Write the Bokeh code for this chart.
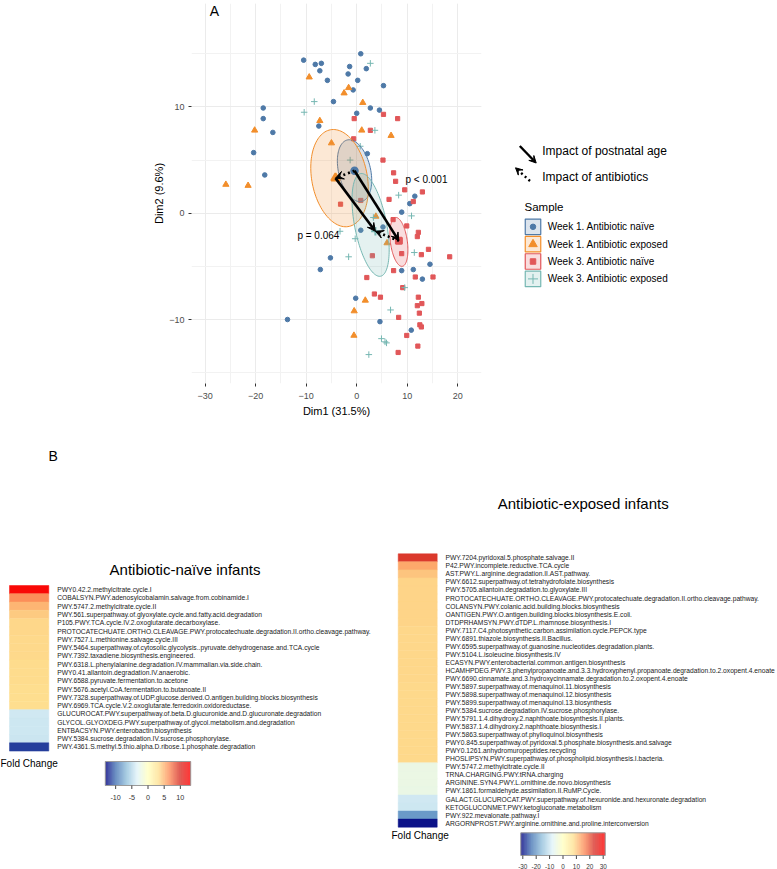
import numpy as np
from bokeh.plotting import figure
from bokeh.models import Range1d, Arrow, VeeHead, SingleIntervalTicker, ColumnDataSource, Label
from bokeh.layouts import column, row
from bokeh.transform import linear_cmap
from bokeh.core.properties import value
from bokeh.embed import file_html
from bokeh.resources import INLINE

FONT = "Liberation Sans"

# ---------------- Panel A data (PCA scores) ----------------
groups = ["Week 1. Antibiotic naïve", "Week 1. Antibiotic exposed",
          "Week 3. Antibiotic naïve", "Week 3. Antibiotic exposed"]
group_colors = ["#4E79A7", "#F28E2B", "#E15759", "#76B7B2"]
group_markers = ["circle", "triangle", "square", "cross"]

w1_naive_x = [-10.5, -8.2, -7.0, -7.3, -5.8, 0.8, -1.4, -1.7, 1.9, 0.2, -0.7, 5.3, -4.6, 2.7, 4.5, 0.0,
              -18.5, -18.5, -16.6, -7.5, -20.4, -18.2, 2.1, 11.5, 10.5, 8.9, 0.8, 5.2, -5.2, -7.2, -0.2,
              8.9, 11.2, 13.0, 14.5, -13.7, 4.6, 10.8]
w1_naive_y = [14.4, 14.0, 14.1, 13.4, 12.5, 15.0, 13.8, 13.1, 13.6, 12.5, 11.6, 12.0, 10.5, 9.9, 9.7, 9.4,
              9.9, 8.9, 7.6, 8.2, 5.7, 3.6, 5.6, 1.6, 0.9, 0.1, -1.6, -1.3, -4.2, -5.3, -8.0,
              -5.4, -5.3, -6.2, -4.8, -10.0, -10.2, -11.0]

w1_exp_x = [-9.4, -1.6, -2.5, 1.2, -20.2, -7.3, 1.0, 6.8, -5.0, -25.9, -21.5, 3.8, 6.0, 1.7, -0.5, -0.55]
w1_exp_y = [12.8, 11.8, 11.3, 10.4, 7.8, 8.7, 7.8, 7.3, 6.6, 2.7, 2.6, -0.3, -2.8, -8.2, -9.2, -11.5]

w3_naive_x = [-0.5, 5.3, 8.1, 2.7, -0.6, 5.2, 7.3, 7.7, 9.5, 13.0, 11.2, 6.4, -3.2, 0.8, 7.2,
              9.9, 12.2, 12.0, 8.9, 12.8, 14.2, 18.4, 3.1, 7.3, 11.6, 15.1, 2.0, 9.1, 3.5, 4.7,
              12.2, 12.9, 12.0, 12.4, 8.3, 12.5, 12.8, 9.9, 12.1, 8.2]
w3_naive_y = [8.9, 9.3, 8.9, 7.8, 7.0, 5.0, 3.8, 3.0, 2.2, 2.0, 1.1, 1.3, 0.85, 1.2, -0.6,
              -1.2, -1.8, -2.2, -3.8, -3.9, -3.4, -4.1, -4.0, -5.4, -6.0, -6.0, -6.05, -7.0, -7.6, -7.9,
              -7.9, -8.5, -8.7, -9.4, -9.8, -10.5, -10.7, -11.5, -12.5, -13.1]

w3_exp_x = [2.7, -8.4, -10.4, 3.6, 0.7, -1.3, 8.3, 10.85, -3.3, -0.3, 3.3, -1.6, 11.4, 9.5, 6.7, 4.9, 5.6, 5.9, 2.4]
w3_exp_y = [14.1, 10.5, 9.5, 7.8, 6.3, 5.0, 1.7, -0.25, -1.7, -2.4, -0.4, -4.1, -3.7, -7.0, -9.1, -11.8, -12.1, -12.2, -13.3]

group_x = [w1_naive_x, w1_exp_x, w3_naive_x, w3_exp_x]
group_y = [w1_naive_y, w1_exp_y, w3_naive_y, w3_exp_y]

# group centroids
mean_x = [-0.43, -4.2, 8.35, 3.7]
mean_y = [4.0, 3.3, -2.6, -1.7]

# confidence ellipses: centre, semi-axis vectors (data units)
ell_cx = [-0.43, -3.4, 8.35, 2.75]
ell_cy = [4.0, 3.3, -2.7, -1.1]
ell_ax = [-1.44, -1.8, 0.66, 1.98]
ell_ay = [2.89, 4.55, -2.3, -4.83]
ell_bx = [3.08, 5.4, 1.66, 3.1]
ell_by = [0.35, 0.48, 0.1, 0.29]

pval_text = ["p < 0.001", "p = 0.064"]
pval_x = [9.66, -11.74]
pval_y = [3.17, -2.05]

# ---------------- Panel B data (fold changes) ----------------
naive_pathways = [
    "PWY0.42.2.methylcitrate.cycle.I",
    "COBALSYN.PWY.adenosylcobalamin.salvage.from.cobinamide.I",
    "PWY.5747.2.methylcitrate.cycle.II",
    "PWY.561.superpathway.of.glyoxylate.cycle.and.fatty.acid.degradation",
    "P105.PWY.TCA.cycle.IV.2.oxoglutarate.decarboxylase.",
    "PROTOCATECHUATE.ORTHO.CLEAVAGE.PWY.protocatechuate.degradation.II.ortho.cleavage.pathway.",
    "PWY.7527.L.methionine.salvage.cycle.III",
    "PWY.5464.superpathway.of.cytosolic.glycolysis..pyruvate.dehydrogenase.and.TCA.cycle",
    "PWY.7392.taxadiene.biosynthesis.engineered.",
    "PWY.6318.L.phenylalanine.degradation.IV.mammalian.via.side.chain.",
    "PWY0.41.allantoin.degradation.IV.anaerobic.",
    "PWY.6588.pyruvate.fermentation.to.acetone",
    "PWY.5676.acetyl.CoA.fermentation.to.butanoate.II",
    "PWY.7328.superpathway.of.UDP.glucose.derived.O.antigen.building.blocks.biosynthesis",
    "PWY.6969.TCA.cycle.V.2.oxoglutarate.ferredoxin.oxidoreductase.",
    "GLUCUROCAT.PWY.superpathway.of.beta.D.glucuronide.and.D.glucuronate.degradation",
    "GLYCOL.GLYOXDEG.PWY.superpathway.of.glycol.metabolism.and.degradation",
    "ENTBACSYN.PWY.enterobactin.biosynthesis",
    "PWY.5384.sucrose.degradation.IV.sucrose.phosphorylase.",
    "PWY.4361.S.methyl.5.thio.alpha.D.ribose.1.phosphate.degradation",
]
naive_fc = [12.6, 6.6, 5.0, 4.2, 3.7, 3.65, 3.6, 3.6, 3.55, 3.5, 3.5, 3.45, 3.4, 3.4, 3.35,
            -4.0, -4.1, -4.1, -4.2, -11.4]

exposed_pathways = [
    "PWY.7204.pyridoxal.5.phosphate.salvage.II",
    "P42.PWY.incomplete.reductive.TCA.cycle",
    "AST.PWY.L.arginine.degradation.II.AST.pathway.",
    "PWY.6612.superpathway.of.tetrahydrofolate.biosynthesis",
    "PWY.5705.allantoin.degradation.to.glyoxylate.III",
    "PROTOCATECHUATE.ORTHO.CLEAVAGE.PWY.protocatechuate.degradation.II.ortho.cleavage.pathway.",
    "COLANSYN.PWY.colanic.acid.building.blocks.biosynthesis",
    "OANTIGEN.PWY.O.antigen.building.blocks.biosynthesis.E.coli.",
    "DTDPRHAMSYN.PWY.dTDP.L.rhamnose.biosynthesis.I",
    "PWY.7117.C4.photosynthetic.carbon.assimilation.cycle.PEPCK.type",
    "PWY.6891.thiazole.biosynthesis.II.Bacillus.",
    "PWY.6595.superpathway.of.guanosine.nucleotides.degradation.plants.",
    "PWY.5104.L.isoleucine.biosynthesis.IV",
    "ECASYN.PWY.enterobacterial.common.antigen.biosynthesis",
    "HCAMHPDEG.PWY.3.phenylpropanoate.and.3.3.hydroxyphenyl.propanoate.degradation.to.2.oxopent.4.enoate",
    "PWY.6690.cinnamate.and.3.hydroxycinnamate.degradation.to.2.oxopent.4.enoate",
    "PWY.5897.superpathway.of.menaquinol.11.biosynthesis",
    "PWY.5898.superpathway.of.menaquinol.12.biosynthesis",
    "PWY.5899.superpathway.of.menaquinol.13.biosynthesis",
    "PWY.5384.sucrose.degradation.IV.sucrose.phosphorylase.",
    "PWY.5791.1.4.dihydroxy.2.naphthoate.biosynthesis.II.plants.",
    "PWY.5837.1.4.dihydroxy.2.naphthoate.biosynthesis.I",
    "PWY.5863.superpathway.of.phylloquinol.biosynthesis",
    "PWY0.845.superpathway.of.pyridoxal.5.phosphate.biosynthesis.and.salvage",
    "PWY0.1261.anhydromuropeptides.recycling",
    "PHOSLIPSYN.PWY.superpathway.of.phospholipid.biosynthesis.I.bacteria.",
    "PWY.5747.2.methylcitrate.cycle.II",
    "TRNA.CHARGING.PWY.tRNA.charging",
    "ARGININE.SYN4.PWY.L.ornithine.de.novo.biosynthesis",
    "PWY.1861.formaldehyde.assimilation.II.RuMP.Cycle.",
    "GALACT.GLUCUROCAT.PWY.superpathway.of.hexuronide.and.hexuronate.degradation",
    "KETOGLUCONMET.PWY.ketogluconate.metabolism",
    "PWY.922.mevalonate.pathway.I",
    "ARGORNPROST.PWY.arginine.ornithine.and.proline.interconversion",
]
exposed_fc = [22.7, 13.2, 10.4, 9.1, 9.0, 9.0, 8.95, 8.9, 8.9, 8.85, 8.8, 8.8, 8.75, 8.7, 8.7,
              8.65, 8.6, 8.6, 8.6, 8.55, 8.55, 8.5, 8.5, 8.5, 8.45, 8.4,
              -5.0, -5.0, -5.1, -5.2, -9.4, -9.6, -19.5, -30.2]

naive_scale = [-13.2, 13.2]
naive_ticks = [-10, -5, 0, 5, 10]
exposed_scale = [-31.5, 31.5]
exposed_ticks = [-30, -20, -10, 0, 10, 20, 30]

# ---------------- colour palette ----------------
stops = ["#000080", "#4575B4", "#91BFDB", "#E0F3F8", "#FFFFBF", "#FEE090", "#FC8D59", "#D73027", "#FF0000"]


def ramp(cols, n=256):
    rgb = np.array([[int(c[i:i + 2], 16) for i in (1, 3, 5)] for c in cols], float)
    pos = np.linspace(0, 1, len(cols))
    t = np.linspace(0, 1, n)
    out = np.stack([np.interp(t, pos, rgb[:, k]) for k in range(3)], 1)
    return ["#%02x%02x%02x" % tuple(int(round(v)) for v in c) for c in out]


palette = ramp(stops)

# ================= Panel A: PCA scatter =================
pA = figure(width=498, height=430, x_range=Range1d(-32.7, 24.7), y_range=Range1d(-16.02, 19.73),
            output_backend="svg", toolbar_location=None, title=None, frame_align=False,
            min_border_left=191, min_border_right=17, min_border_top=3, min_border_bottom=47)
pA.outline_line_color = None
pA.background_fill_color = "white"
pA.border_fill_color = "white"
for ax in (pA.xaxis[0], pA.yaxis[0]):
    ax.ticker = SingleIntervalTicker(interval=10, num_minor_ticks=2)
    ax.axis_line_color = None
    ax.major_tick_line_color = "#333333"
    ax.major_tick_out = 3
    ax.major_tick_in = 0
    ax.minor_tick_line_color = None
    ax.major_label_text_font = FONT
    ax.major_label_text_font_size = "9px"
    ax.major_label_text_color = "#4D4D4D"
    ax.axis_label_text_font = FONT
    ax.axis_label_text_font_size = "11px"
    ax.axis_label_text_font_style = "normal"
    ax.axis_label_text_color = "black"
pA.xaxis.major_label_standoff = 5
pA.yaxis.major_label_standoff = 3
pA.xaxis.axis_label_standoff = 3
pA.yaxis.axis_label_standoff = 1
pA.xaxis.axis_label = "Dim1 (31.5%)"
pA.yaxis.axis_label = "Dim2 (9.6%)"
pA.grid.grid_line_color = "#EBEBEB"
pA.grid.grid_line_width = 1
pA.grid.minor_grid_line_color = "#F2F2F2"
pA.grid.minor_grid_line_width = 1

pt_sizes = [4.6, 6.2, 4.2, 6.5]
for gx, gy, col, mk, sz in zip(group_x, group_y, group_colors, group_markers, pt_sizes):
    pA.scatter(gx, gy, marker=mk, size=sz, fill_color=col, line_color=col, line_width=1)

# ellipses
tt = np.linspace(0, 2 * np.pi, 120)
exs, eys = [], []
for cx, cy, ax_, ay_, bx_, by_ in zip(ell_cx, ell_cy, ell_ax, ell_ay, ell_bx, ell_by):
    exs.append(list(cx + np.cos(tt) * ax_ + np.sin(tt) * bx_))
    eys.append(list(cy + np.cos(tt) * ay_ + np.sin(tt) * by_))
pA.patches(exs, eys, fill_color=group_colors, fill_alpha=0.2, line_color=group_colors, line_width=1.0)

mean_sizes = [6.5, 8.5, 6.0, 8.5]
for mx, my, col, mk, sz in zip(mean_x, mean_y, group_colors, group_markers, mean_sizes):
    pA.scatter([mx], [my], marker=mk, size=sz, fill_color=col, line_color=col, line_width=2)

# arrows: postnatal age (solid), antibiotics (dotted)
solid_pairs = [(0, 2), (1, 3)]
dotted_pairs = [(0, 1), (2, 3)]
for a, b in solid_pairs:
    pA.add_layout(Arrow(x_start=mean_x[a], y_start=mean_y[a], x_end=mean_x[b], y_end=mean_y[b],
                        line_width=2.6, line_color="black",
                        end=VeeHead(size=8, fill_color="black", line_color="black")))
for a, b in dotted_pairs:
    pA.add_layout(Arrow(x_start=mean_x[a], y_start=mean_y[a], x_end=mean_x[b], y_end=mean_y[b],
                        line_width=2.6, line_color="black", line_dash="2 3",
                        end=VeeHead(size=8, fill_color="black", line_color="black")))

pA.text(x=pval_x, y=pval_y, text=pval_text, text_font=value(FONT), text_font_size="10px",
        text_baseline="middle", text_align="left", text_color="black")
pA.add_layout(Label(x=-28.14, y=18.98, text="A", text_font=FONT, text_font_size="14px",
                    text_baseline="middle", text_align="center", text_color="black"))

# ================= Panel A legend =================
pL = figure(width=279, height=430, x_range=Range1d(498, 777), y_range=Range1d(430, 0),
            x_axis_type=None, y_axis_type=None, min_border=0, output_backend="svg",
            toolbar_location=None, title=None, frame_align=False)
pL.outline_line_color = None
pL.grid.visible = False
pL.add_layout(Arrow(x_start=519.3, y_start=145.5, x_end=535.7, y_end=162.5, line_width=2.4,
                    end=VeeHead(size=7, fill_color="black", line_color="black")))
pL.add_layout(Arrow(x_start=529.5, y_start=180.5, x_end=515, y_end=167.3, line_width=2.4, line_dash="2 3",
                    end=VeeHead(size=7, fill_color="black", line_color="black")))
pL.text(x=[541.7, 541.7], y=[150, 176.7], text=["Impact of postnatal age", "Impact of antibiotics"],
        text_font=value(FONT), text_font_size="12px", text_baseline="middle", text_color="black")
pL.text(x=[524], y=[206.7], text=["Sample"], text_font=value(FONT), text_font_size="11.5px",
        text_baseline="middle", text_color="black")
key_y = [226.3, 243.7, 261.0, 278.4]
pL.rect(x=[532.5] * 4, y=key_y, width=15.5, height=15.5, fill_color=group_colors, fill_alpha=0.2,
        line_color=group_colors, line_width=1.2)
key_sizes = [5.5, 8.5, 5.5, 10]
for ky, col, mk, sz in zip(key_y, group_colors, group_markers, key_sizes):
    pL.scatter([532.5], [ky], marker=mk, size=sz, fill_color=col, line_color=col, line_width=1)
pL.text(x=[547.3] * 4, y=key_y, text=groups, text_font=value(FONT), text_font_size="10px",
        text_baseline="middle", text_color="black")

# ================= Panel B: heatmaps =================
pB = figure(width=777, height=439, x_range=Range1d(0, 777), y_range=Range1d(869, 430),
            x_axis_type=None, y_axis_type=None, min_border=0, output_backend="svg",
            toolbar_location=None, title=None, frame_align=False)
pB.outline_line_color = None
pB.grid.visible = False


def heatmap(p, names, fc, scale, x0, x1, top, rh, label_x):
    n = len(names)
    src = ColumnDataSource(dict(x=[(x0 + x1) / 2] * n, y=[top + (i + 0.5) * rh for i in range(n)],
                                fc=fc, name=names, lx=[label_x] * n))
    cmap = linear_cmap("fc", palette, scale[0], scale[1])
    p.rect(x="x", y="y", width=x1 - x0, height=rh, source=src, fill_color=cmap, line_color=cmap,
           line_width=0.5)
    p.text(x="lx", y="y", text="name", source=src, text_font=value(FONT), text_font_size="6.7px",
           text_baseline="middle", text_align="left", text_color="#1a1a1a")


def colorbar(p, scale, ticks, cx, ppu, y0, y1, label_y, fs):
    lo, hi = scale
    nb = 150
    step = (hi - lo) / nb
    v = [lo + (k + 0.5) * step for k in range(nb)]
    src = ColumnDataSource(dict(x=[cx + vv * ppu for vv in v], y=[(y0 + y1) / 2] * nb, v=v))
    cmap = linear_cmap("v", palette, lo, hi)
    p.rect(x="x", y="y", width=step * ppu * 1.08, height=y1 - y0, source=src, fill_color=cmap,
           line_color=None)
    p.rect(x=[cx], y=[(y0 + y1) / 2], width=(hi - lo) * ppu, height=y1 - y0, fill_color=None,
           line_color="#9A9A9A", line_width=1)
    tx = [cx + t * ppu for t in ticks]
    p.segment(x0=tx, y0=[y1] * len(ticks), x1=tx, y1=[y1 + 3.5] * len(ticks), line_color="#444444",
              line_width=1)
    p.text(x=tx, y=[label_y] * len(ticks), text=["%g" % t for t in ticks], text_font=value(FONT),
           text_font_size=fs, text_align="center", text_baseline="middle", text_color="#333333")


heatmap(pB, naive_pathways, naive_fc, naive_scale, 9, 48.3, 585, 8.28, 56.7)
heatmap(pB, exposed_pathways, exposed_fc, exposed_scale, 397.7, 436.7, 553.3, 8.04, 445)
colorbar(pB, naive_scale, naive_ticks, 147.5, 3.235, 761, 785, 796.7, "7.2px")
colorbar(pB, exposed_scale, exposed_ticks, 562.5, 1.34, 832.3, 855, 865.5, "6.4px")

pB.text(x=[52.7], y=[455], text=["B"], text_font=value(FONT), text_font_size="14px",
        text_align="center", text_baseline="middle", text_color="black")
pB.text(x=[184.5, 582.7], y=[569, 503.3], text=["Antibiotic-naïve infants", "Antibiotic-exposed infants"],
        text_font=value(FONT), text_font_size="15px", text_align="center", text_baseline="middle",
        text_color="black")
pB.text(x=[0, 391], y=[762.7, 835], text=["Fold Change", "Fold Change"], text_font=value(FONT),
        text_font_size="10px", text_align="left", text_baseline="middle", text_color="black")

layout = column(row(pA, pL), pB)
open("out.html", "w").write(file_html(layout, INLINE))
